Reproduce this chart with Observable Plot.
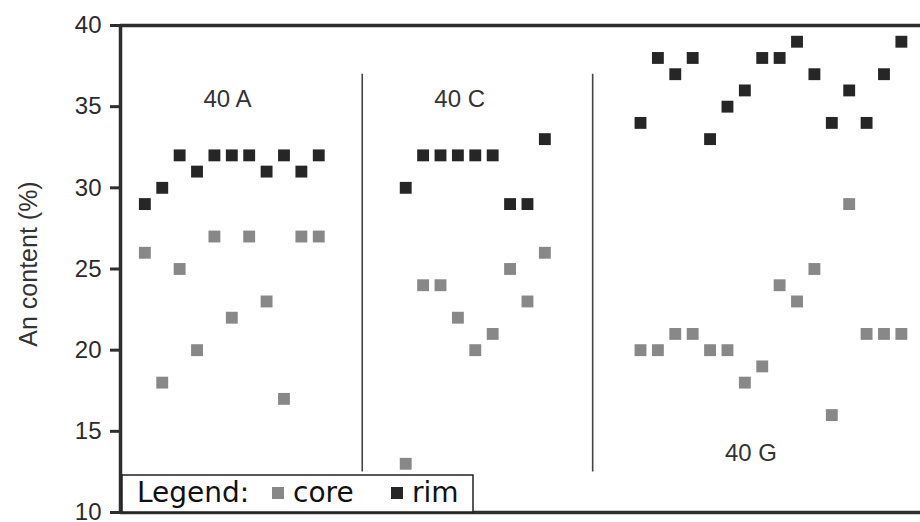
<!DOCTYPE html>
<html>
<head>
<meta charset="utf-8">
<script src="https://cdn.jsdelivr.net/npm/d3@7"></script>
<script src="https://cdn.jsdelivr.net/npm/@observablehq/plot@0.6"></script>
<style>
  html, body { margin: 0; padding: 0; background: #ffffff; }
  #chart { width: 920px; height: 522px; }
</style>
</head>
<body>
<div id="chart"></div>
<script>
// ---- Data ----
const groups = ["40 A", "40 C", "40 G"];
const seriesNames = ["core", "rim"];
const seriesColors = ["#888888", "#262626"];
const yTicks = [10, 15, 20, 25, 30, 35, 40];

// analysis position along the traverse (x) for each group
const posA = [1, 3, 5, 7, 9, 11, 13, 15, 17, 19, 21];
const coreA = [26, 18, 25, 20, 27, 22, 27, 23, 17, 27, 27];
const rimA  = [29, 30, 32, 31, 32, 32, 32, 31, 32, 31, 32];

const posC = [31, 33, 35, 37, 39, 41, 43, 45, 47];
const coreC = [13, 24, 24, 22, 20, 21, 25, 23, 26];
const rimC  = [30, 32, 32, 32, 32, 32, 29, 29, 33];

const posG = [58, 60, 62, 64, 66, 68, 70, 72, 74, 76, 78, 80, 82, 84, 86, 88];
const coreG = [20, 20, 21, 21, 20, 20, 18, 19, 24, 23, 25, 16, 29, 21, 21, 21];
const rimG  = [34, 38, 37, 38, 33, 35, 36, 38, 38, 39, 37, 34, 36, 34, 37, 39];

// group label anchors (data units)
const labelX = [10.5, 37.2, 70.7];
const labelY = [35, 35, 13.2];

// ---- Build table ----
const rows = [];
function addGroup(group, pos, core, rim) {
  pos.forEach((p, i) => {
    rows.push({group, x: p, series: "core", value: core[i]});
    rows.push({group, x: p, series: "rim", value: rim[i]});
  });
}
addGroup(groups[0], posA, coreA, rimA);
addGroup(groups[1], posC, coreC, rimC);
addGroup(groups[2], posG, coreG, rimG);

const separators = [
  (posA[posA.length - 1] + posC[0]) / 2,
  (posC[posC.length - 1] + posG[0]) / 2
];

const xDomain = [-1.8, 90.2];
const frameStroke = "#2e2e2e";

const plot = Plot.plot({
  width: 920,
  height: 522,
  marginLeft: 120,
  marginRight: 0,
  marginTop: 25,
  marginBottom: 10,
  style: {
    background: "#ffffff",
    color: "#2b2b2b",
    fontFamily: "'Liberation Sans', Arial, sans-serif",
    overflow: "visible"
  },
  x: {domain: xDomain, axis: null},
  y: {domain: [10, 40], axis: null},
  color: {domain: seriesNames, range: seriesColors},
  marks: [
    Plot.ruleX(separators, {y1: 12.5, y2: 37, stroke: "#444444", strokeWidth: 1.6}),
    Plot.ruleY([10, 40], {stroke: frameStroke, strokeWidth: 3.5}),
    Plot.axisY({
      ticks: yTicks,
      tickSize: 10,
      tickPadding: 9,
      fontSize: 24,
      stroke: frameStroke,
      strokeWidth: 3,
      fill: "#2b2b2b",
      label: null
    }),
    Plot.ruleX([xDomain[0]], {y1: 10, y2: 40, stroke: frameStroke, strokeWidth: 3.5}),
    Plot.dot(rows, {x: "x", y: "value", fill: "series", symbol: "square", r: 6.7}),
    Plot.text(groups, {
      x: (d, i) => labelX[i],
      y: (d, i) => labelY[i],
      text: d => d,
      fontSize: 24,
      lineAnchor: "bottom",
      fill: "#333333"
    }),
    Plot.text(["An content (%)"], {
      frameAnchor: "left",
      textAnchor: "middle",
      dx: -92,
      dy: -5,
      rotate: -90,
      fontSize: 25,
      fill: "#333333"
    })
  ]
});

document.getElementById("chart").appendChild(plot);

// ---- In-plot legend box (bottom-left of frame) ----
const L = 120, B = 522 - 10;
const svg = d3.select(plot);
const lg = svg.append("g")
  .attr("font-family", "'DejaVu Sans', Verdana, sans-serif")
  .attr("font-size", 28)
  .attr("text-anchor", "start")
  .attr("fill", "#111111");
lg.append("rect")
  .attr("x", L + 2).attr("y", B - 37)
  .attr("width", 351).attr("height", 37)
  .attr("fill", "#ffffff")
  .attr("stroke", "#222222")
  .attr("stroke-width", 1.5);
lg.append("text").attr("x", L + 17).attr("y", B - 10).text("Legend:");
const itemOffsets = [152, 271];
seriesNames.forEach((name, i) => {
  lg.append("rect")
    .attr("x", L + itemOffsets[i]).attr("y", B - 25)
    .attr("width", 12).attr("height", 12)
    .attr("fill", seriesColors[i]);
  lg.append("text")
    .attr("x", L + itemOffsets[i] + 21)
    .attr("y", B - 10)
    .text(name);
});
</script>
</body>
</html>
